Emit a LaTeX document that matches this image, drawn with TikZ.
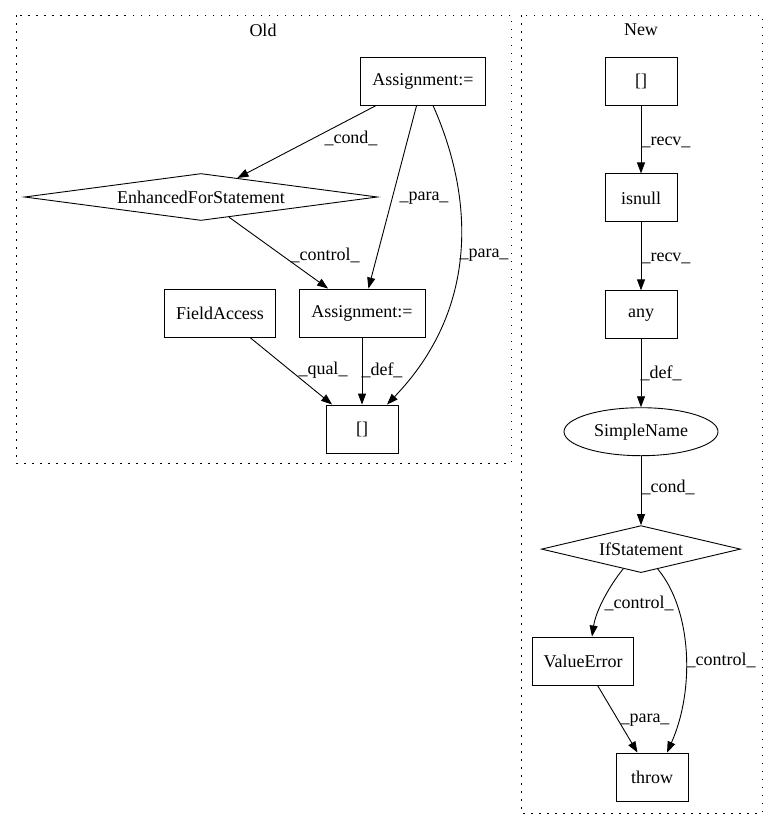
\documentclass[tikz,border=0pt]{standalone}
\usepackage{fontspec}
\setmainfont{Liberation Serif}
\usetikzlibrary{positioning, arrows.meta, shapes.geometric}

\begin{document}
\begin{tikzpicture}[x=1pt, y=-1pt, >={Triangle[length=11pt, width=8pt]},
  every node/.style={font=\fontsize{18pt}{21pt}\selectfont},
  box/.style={draw, line width=0.9pt, minimum height=48pt, inner sep=0pt},
  cond/.style={draw, diamond, shape aspect=7, line width=0.9pt, inner sep=0pt},
  lbl/.style={inner sep=0pt},
  flow/.style={->, line width=0.9pt},
  cluster/.style={dash pattern=on 1.5pt off 6.5pt, line width=1pt}]

\useasboundingbox (0,0) rectangle (777,828);

% clusters
\draw[cluster] (16,15) rectangle (511,463);
\node (oldtit) at (263,30) {Old};
\draw[cluster] (521,15) rectangle (762,813);
\node (newtit) at (641,30) {New};

% old graph
\node[box, minimum width=125pt] (asgtop) at (423,81) {Assignment:=};
\node[cond, minimum width=353pt, minimum height=47pt] (efs) at (201,197) {EnhancedForStatement};
\node[box, minimum width=111pt] (fld) at (220,313) {FieldAccess};
\node[box, minimum width=126pt] (asgin) at (362,313) {Assignment:=};
\node[box, minimum width=72pt] (oldidx) at (362,429) {[]};

\draw[flow] (asgtop) -- (efs) node[lbl] (lcond) at (351,138) {\_cond\_};
\draw[flow] (asgtop) -- (asgin) node[lbl] (lparaa) at (424,198) {\_para\_};
\draw[flow] ([xshift=10pt]asgtop.south) .. controls (475,200) and (478,310) .. ([xshift=25pt]oldidx.north)
  node[lbl] (lparab) at (484,255) {\_para\_};
\draw[flow] (efs) -- (asgin) node[lbl] (lctrl) at (325,255) {\_control\_};
\draw[flow] (fld) -- (oldidx) node[lbl] (lqual) at (323,370) {\_qual\_};
\draw[flow] (asgin) -- (oldidx) node[lbl] (ldefa) at (382,370) {\_def\_};

% new graph
\node[box, minimum width=72pt] (newidx) at (641,81) {[]};
\node[box, minimum width=72pt, below=68pt of newidx] (isnull) {isnull};
\node[box, minimum width=72pt, below=68pt of isnull] (any) {any};
\node[draw, ellipse, line width=0.9pt, minimum width=154pt, minimum height=48pt, inner sep=0pt, below=68pt of any] (sname) {SimpleName};
\node[cond, minimum width=199pt, minimum height=47pt, below=69pt of sname] (ifst) {IfStatement};
\node[box, minimum width=101pt] (verr) at (583,661) {ValueError};
\node[box, minimum width=72pt] (thr) at (652,777) {throw};

\draw[flow] (newidx) -- (isnull) node[lbl] (lrecva) at (666,142) {\_recv\_};
\draw[flow] (isnull) -- (any) node[lbl] (lrecvb) at (666,258) {\_recv\_};
\draw[flow] (any) -- (sname) node[lbl] (ldefb) at (661,373) {\_def\_};
\draw[flow] (sname) -- (ifst) node[lbl] (lcondb) at (668,487) {\_cond\_};
\draw[flow] (ifst.228) .. controls (610,585) and (596,610) .. ([xshift=9pt]verr.north)
  node[lbl] (lctrla) at (639,603) {\_control\_};
\draw[flow] (ifst.310) .. controls (692,610) and (695,690) .. ([xshift=15pt]thr.north)
  node[lbl] (lctrlb) at (721,660) {\_control\_};
\draw[flow] (verr) -- (thr) node[lbl] (lparac) at (645,720) {\_para\_};

\end{tikzpicture}
\end{document}
